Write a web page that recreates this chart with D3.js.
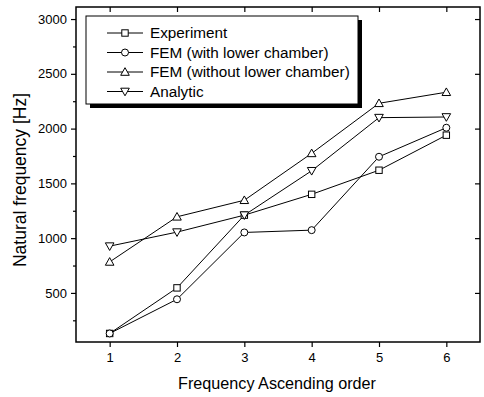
<!DOCTYPE html>
<html>
<head>
<meta charset="utf-8">
<script src="https://cdn.jsdelivr.net/npm/d3@7"></script>
<style>
  body { margin: 0; background: #fff; }
  svg { font-family: "Liberation Sans", Arial, sans-serif; }
</style>
</head>
<body>
<div id="chart"></div>
<script>
// data
var orders = [1, 2, 3, 4, 5, 6];
var experiment = [130, 546, 1210, 1400, 1620, 1940];
var femWith = [130, 442, 1052, 1073, 1743, 2008];
var femWithout = [783, 1195, 1346, 1774, 2231, 2332];
var analytic = [927, 1055, 1210, 1615, 2100, 2106];
var yTicks = [500, 1000, 1500, 2000, 2500, 3000];
var yMinor = [250, 750, 1250, 1750, 2250, 2750];

var series = [
  { name: "Experiment", values: experiment, sym: "square" },
  { name: "FEM (with lower chamber)", values: femWith, sym: "circle" },
  { name: "FEM (without lower chamber)", values: femWithout, sym: "up" },
  { name: "Analytic", values: analytic, sym: "down" }
];

var width = 484, height = 397;
var m = { left: 76, right: 4, top: 7, bottom: 55 };
var iw = width - m.left - m.right, ih = height - m.top - m.bottom;

var svg = d3.select("#chart").append("svg")
  .attr("width", width).attr("height", height);
var g = svg.append("g").attr("transform", "translate(" + m.left + "," + m.top + ")");

var x = d3.scaleLinear().domain([0.5, 6.5]).range([0, iw]);
var y = d3.scaleLinear().domain([52, 3110]).range([ih, 0]);

// axes
var xAxis = g.append("g").attr("transform", "translate(0," + ih + ")")
  .call(d3.axisBottom(x).tickValues(orders).tickSize(5).tickPadding(6).tickFormat(d3.format("d")));
var yAxis = g.append("g")
  .call(d3.axisLeft(y).tickValues(yTicks).tickSize(5).tickPadding(4).tickFormat(d3.format("d")));
g.append("g").call(d3.axisLeft(y).tickValues(yMinor).tickSize(3).tickFormat(""));
g.append("g").attr("transform", "translate(" + iw + ",0)")
  .call(d3.axisLeft(y).tickValues(yTicks).tickSize(5).tickFormat(""));
g.append("g")
  .call(d3.axisBottom(x).tickValues(orders).tickSize(5).tickFormat(""));

g.selectAll(".domain").remove();
g.selectAll(".tick line").attr("stroke", "#000").attr("stroke-width", 1.2);
g.selectAll(".tick text").attr("font-size", 13).attr("fill", "#000")
  .style("font-family", "Liberation Sans, Arial, sans-serif");

g.append("rect").attr("x", 0).attr("y", 0).attr("width", iw).attr("height", ih)
  .attr("fill", "none").attr("stroke", "#000").attr("stroke-width", 1.5);

// symbols
function drawSym(sel, sym) {
  if (sym === "square") {
    sel.append("rect").attr("x", -3.2).attr("y", -3.2).attr("width", 6.4).attr("height", 6.4);
  } else if (sym === "circle") {
    sel.append("circle").attr("r", 3.5);
  } else if (sym === "up") {
    sel.append("path").attr("d", "M0,-4.3L4.3,3.3L-4.3,3.3Z");
  } else {
    sel.append("path").attr("d", "M0,4.3L4.3,-3.3L-4.3,-3.3Z");
  }
  sel.selectAll("*").attr("fill", "#fff").attr("stroke", "#000").attr("stroke-width", 1);
}

var line = d3.line().x(function (d, i) { return x(orders[i]); }).y(function (d) { return y(d); });

series.forEach(function (s) {
  g.append("path").datum(s.values).attr("d", line)
    .attr("fill", "none").attr("stroke", "#000").attr("stroke-width", 1);
});
series.forEach(function (s) {
  s.values.forEach(function (v, i) {
    var p = g.append("g").attr("transform", "translate(" + x(orders[i]) + "," + y(v) + ")");
    drawSym(p, s.sym);
  });
});

// legend
var lg = svg.append("g").attr("transform", "translate(86,16)");
lg.append("rect").attr("x", 4).attr("y", 4).attr("width", 272).attr("height", 88).attr("fill", "#000");
lg.append("rect").attr("x", 0).attr("y", 0).attr("width", 272).attr("height", 88)
  .attr("fill", "#fff").attr("stroke", "#000").attr("stroke-width", 1);
series.forEach(function (s, i) {
  var ry = 17 + i * 19.5;
  lg.append("line").attr("x1", 21).attr("x2", 57).attr("y1", ry).attr("y2", ry)
    .attr("stroke", "#000").attr("stroke-width", 1);
  drawSym(lg.append("g").attr("transform", "translate(39," + ry + ")"), s.sym);
  lg.append("text").attr("x", 64).attr("y", ry + 5).attr("font-size", 15.3).text(s.name);
});

// titles
svg.append("text").attr("x", 277).attr("y", 389).attr("text-anchor", "middle")
  .attr("font-size", 16.2).text("Frequency Ascending order");
svg.append("text").attr("transform", "translate(26,180) rotate(-90)")
  .attr("text-anchor", "middle").attr("font-size", 17.5).text("Natural frequency [Hz]");
</script>
</body>
</html>
